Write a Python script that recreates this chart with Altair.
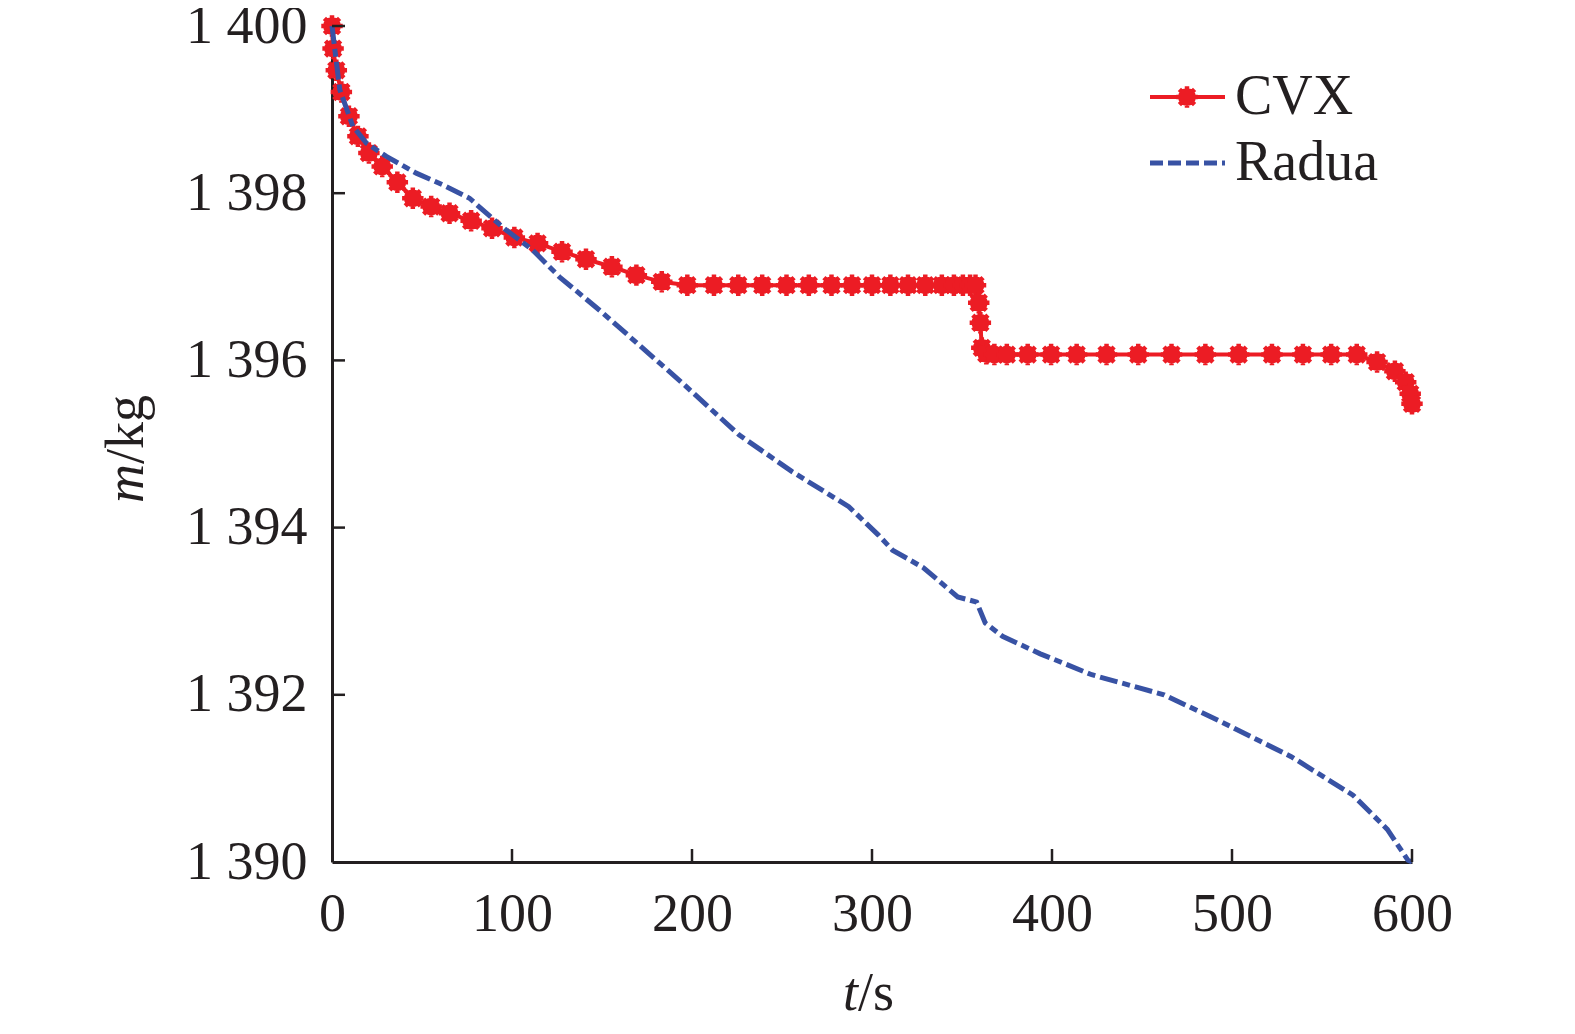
import altair as alt
import pandas as pd

# ---- data ----
cvx_t = [0, 0.6, 2.4, 5.2, 9.4, 14.4, 20.5, 27.9, 36.3, 44.9, 55.1, 65.3, 77.3, 88.9,
         101.3, 114.2, 127.8, 141.1, 155.5, 169.1, 183.2,
         197.4, 212.2, 225.7, 239.0, 252.5, 264.9, 277.5, 288.9, 300.0, 310.2, 320.0,
         329.6, 338.8, 345.5, 350.5, 354.5, 357.5,
         359.3, 360.2, 361.0, 363.5,
         368.0, 374.9, 386.5, 399.5, 413.7, 430.3, 447.9, 466.4, 485.2, 503.7, 522.2,
         539.4, 555.1, 569.3,
         580.6, 590.5, 596.5, 599.0, 600.0]
cvx_m = [1400.0, 1399.73, 1399.47, 1399.21, 1398.92, 1398.68, 1398.48, 1398.32, 1398.13,
         1397.94, 1397.84, 1397.76, 1397.67, 1397.58,
         1397.47, 1397.40, 1397.30, 1397.21, 1397.12, 1397.02, 1396.94,
         1396.90, 1396.90, 1396.90, 1396.90, 1396.90, 1396.90, 1396.90, 1396.90, 1396.90,
         1396.90, 1396.90, 1396.90, 1396.90, 1396.90, 1396.90, 1396.90, 1396.90,
         1396.69, 1396.45, 1396.15, 1396.08,
         1396.07, 1396.07, 1396.07, 1396.07, 1396.07, 1396.07, 1396.07, 1396.07, 1396.07,
         1396.07, 1396.07, 1396.07, 1396.07, 1396.07,
         1395.98, 1395.87, 1395.74, 1395.60, 1395.48]

radua_t = [0, 4.3, 11.6, 19.1, 30.2, 46.8, 61.6, 76.4, 83.7, 96.7, 111.5, 126.3, 150.3,
           194.6, 226.1, 255.6, 287.1, 303.6, 311.4, 328.6, 347.6, 358.1, 362.9, 372.5,
           393.5, 422.1, 462.2, 494.7, 532.9, 567.2, 586.3, 597.8, 600.0]
radua_m = [1400.0, 1399.24, 1398.80, 1398.60, 1398.44, 1398.24, 1398.10, 1397.94, 1397.80,
           1397.56, 1397.32, 1397.00, 1396.57,
           1395.73, 1395.11, 1394.67, 1394.25, 1393.91, 1393.73, 1393.52, 1393.17, 1393.11,
           1392.86, 1392.70, 1392.49, 1392.24, 1392.00, 1391.67, 1391.26, 1390.80, 1390.39,
           1390.02, 1390.0]

x_ticks = [0, 100, 200, 300, 400, 500, 600]
y_ticks = [1390, 1392, 1394, 1396, 1398, 1400]
series_names = ["CVX", "Radua"]

# ---- styling ----
W, H = 1080, 836
RED = "#EC1C24"
BLUE = "#3852A4"
INK = "#231F20"
FONT = "Liberation Serif"
FS = 54
STAR = ("M-1,0L1,0M0,-1L0,1M-0.707,-0.707L0.707,0.707M-0.707,0.707L0.707,-0.707"
        "M0.62,0L0.573,0.237L0.438,0.438L0.237,0.573L0,0.62L-0.237,0.573L-0.438,0.438"
        "L-0.573,0.237L-0.62,0L-0.573,-0.237L-0.438,-0.438L-0.237,-0.573L0,-0.62"
        "L0.237,-0.573L0.438,-0.438L0.573,-0.237Z")

xs = alt.Scale(domain=[0, 600], nice=False, zero=False)
ys = alt.Scale(domain=[1390, 1400], nice=False, zero=False)

cvx = pd.DataFrame({"t": cvx_t, "m": cvx_m})
rad = pd.DataFrame({"t": radua_t, "m": radua_m})

common_axis = dict(title=None, ticks=False, grid=False, domainColor=INK, domainWidth=3,
                   labelFont=FONT, labelFontSize=FS, labelColor=INK, labelPadding=25,
                   labelFlush=False, labelOverlap=False)
xaxis = alt.Axis(values=x_ticks, **common_axis)
yaxis = alt.Axis(values=y_ticks, labelExpr="replace(format(datum.value, ','), ',', ' ')",
                 **common_axis)

cvx_line = alt.Chart(cvx).mark_line(color=RED, strokeWidth=4).encode(
    x=alt.X("t:Q", scale=xs, axis=xaxis),
    y=alt.Y("m:Q", scale=ys, axis=yaxis),
)
cvx_pts = alt.Chart(cvx).mark_point(
    shape=STAR, size=460, filled=True, fill=RED, stroke=RED, strokeWidth=4.5, opacity=1
).encode(x="t:Q", y="m:Q")

rad_line = alt.Chart(rad).mark_line(color=BLUE, strokeWidth=5,
                                    strokeDash=[18, 5, 8, 5]).encode(x="t:Q", y="m:Q")

# inward ticks
xt = alt.Chart(pd.DataFrame({"t": x_ticks[1:]})).mark_rule(color=INK, strokeWidth=2.5).encode(
    x="t:Q", y=alt.value(H), y2=alt.value(H - 13)
)
yt = alt.Chart(pd.DataFrame({"m": y_ticks[1:]})).mark_rule(color=INK, strokeWidth=2.5).encode(
    y="m:Q", x=alt.value(0), x2=alt.value(13)
)

one = pd.DataFrame({"a": [0]})
# axis titles (italic variable + upright unit)
xt_var = alt.Chart(one).mark_text(text="t", font=FONT, fontSize=FS, fontStyle="italic",
                                  align="right", baseline="alphabetic", color=INK).encode(
    x=alt.value(526), y=alt.value(984))
xt_unit = alt.Chart(one).mark_text(text="/s", font=FONT, fontSize=FS,
                                   align="left", baseline="alphabetic", color=INK).encode(
    x=alt.value(526), y=alt.value(984))
yt_var = alt.Chart(one).mark_text(text="m", font=FONT, fontSize=FS, fontStyle="italic",
                                  angle=270, align="right", baseline="alphabetic",
                                  color=INK).encode(x=alt.value(-189), y=alt.value(438))
yt_unit = alt.Chart(one).mark_text(text="/kg", font=FONT, fontSize=FS, angle=270,
                                   align="left", baseline="alphabetic",
                                   color=INK).encode(x=alt.value(-189), y=alt.value(438))

# legend
LX = 818
leg_cvx_line = alt.Chart(one).mark_rule(color=RED, strokeWidth=4).encode(
    x=alt.value(LX), x2=alt.value(LX + 75), y=alt.value(71))
leg_cvx_pt = alt.Chart(one).mark_point(
    shape=STAR, size=460, filled=True, fill=RED, stroke=RED, strokeWidth=4.5, opacity=1
).encode(x=alt.value(LX + 37), y=alt.value(71))
leg_cvx_txt = alt.Chart(one).mark_text(text=series_names[0], font=FONT, fontSize=56,
                                       align="left", baseline="middle", color=INK).encode(
    x=alt.value(LX + 85), y=alt.value(71))
leg_rad_line = alt.Chart(one).mark_rule(color=BLUE, strokeWidth=5, strokeDash=[13, 5]).encode(
    x=alt.value(LX), x2=alt.value(LX + 75), y=alt.value(137))
leg_rad_txt = alt.Chart(one).mark_text(text=series_names[1], font=FONT, fontSize=56,
                                       align="left", baseline="middle", color=INK).encode(
    x=alt.value(LX + 85), y=alt.value(137))

chart = alt.layer(
    cvx_line, cvx_pts, rad_line, xt, yt,
    xt_var, xt_unit, yt_var, yt_unit,
    leg_cvx_line, leg_cvx_pt, leg_cvx_txt, leg_rad_line, leg_rad_txt,
).properties(
    width=W, height=H,
    autosize=alt.AutoSizeParams(type="none"),
    padding={"left": 324, "top": 18, "right": 150, "bottom": 160},
    background="white",
).configure_view(stroke=None)

chart.save("out.html", embed_options={"renderer": "svg", "actions": False})
